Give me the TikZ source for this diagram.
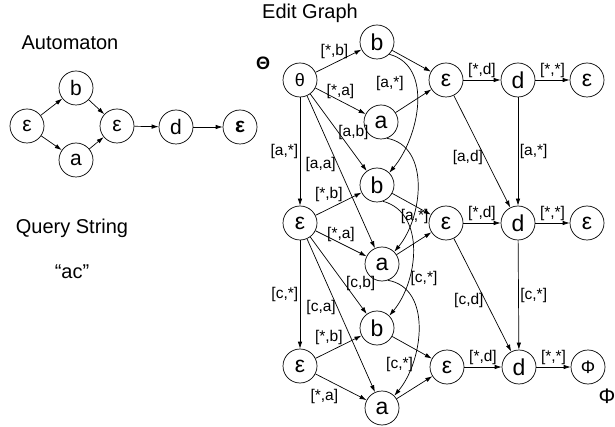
\documentclass[tikz,border=0pt]{standalone}
\usepackage{fontspec}
\setmainfont{Liberation Sans}
\usetikzlibrary{arrows.meta}

\begin{document}
\begin{tikzpicture}[x=1pt, y=1pt, line width=0.7pt, >={Latex[length=7pt,width=4.5pt]},
    state/.style={circle, draw, minimum size=34pt, inner sep=0pt, font=\fontsize{23}{25}\selectfont},
    astate/.style={state, font=\fontsize{21}{23}\selectfont},
    lbl/.style={inner sep=1.5pt, font=\fontsize{15.5}{17}\selectfont},
    title/.style={font=\fontsize{20}{24}\selectfont}]
  \useasboundingbox (0,0) rectangle (615,-427);

  % automaton
  \node [title] at (70,-43) {Automaton};
  \node (E1) [astate] at (27,-126) {ε};
  \node (B) [astate] at (76,-88) {b};
  \node (A) [astate] at (76,-160) {a};
  \node (E2) [astate] at (117,-126) {ε};
  \node (D) [astate] at (176,-127) {d};
  \node (E3) [astate] at (240,-127) {\bfseries ε};
  \draw[->] (E1) -- (B);
  \draw[->] (E1) -- (A);
  \draw[->] (B) -- (E2);
  \draw[->] (A) -- (E2);
  \draw[->] (E2) -- (D);
  \draw[->] (D) -- (E3);

  % query
  \node [title] at (72,-228) {Query String};
  \node [title] at (72,-272) {“ac”};

  % edit graph
  \node [title] at (310,-13) {Edit Graph};
  \node (Th) at (263,-63) {\fontsize{18}{20}\selectfont\bfseries Θ};
  \node (Ph) at (607,-396) {\fontsize{21}{23}\selectfont Φ};

  \node (S0) [state] at (300,-80) {\fontsize{18}{20}\selectfont θ};
  \node (B0) [state] at (377,-42) {b};
  \node (A0) [state] at (381,-122) {a};
  \node (M0) [state] at (446,-80) {ε};
  \node (D0) [state] at (518,-80) {d};
  \node (F0) [state] at (587,-80) {ε};

  \node (S1) [state] at (300,-223) {ε};
  \node (B1) [state] at (377,-185) {b};
  \node (A1) [state] at (382,-264) {a};
  \node (M1) [state] at (446,-223) {ε};
  \node (D1) [state] at (518,-223) {d};
  \node (F1) [state] at (587,-223) {ε};

  \node (S2) [state] at (300,-366) {ε};
  \node (B2) [state] at (377,-328) {b};
  \node (A2) [state] at (382,-408) {a};
  \node (M2) [state] at (447,-367) {ε};
  \node (D2) [state] at (519,-367) {d};
  \node (F2) [state] at (588,-367) {\fontsize{18}{20}\selectfont Φ};

  % layer 0
  \draw[->] (S0) -- (B0) node [lbl, midway, above, xshift=-4] {[*,b]};
  \draw[->] (S0) -- (A0) node [lbl, midway, above] {[*,a]};
  \draw[->] (B0) -- (M0);
  \draw[->] (A0) -- (M0);
  \draw[->] (M0) -- (D0) node [lbl, midway, above] {[*,d]};
  \draw[->] (D0) -- (F0) node [lbl, midway, above] {[*,*]};

  % layer 0 to layer 1
  \draw[->] (S0) -- (S1) node [lbl, midway, left] {[a,*]};
  \draw[->] (S0) -- (B1) node [lbl, midway, right, xshift=-2] {[a,b]};
  \draw[->] (S0) -- (A1) node [lbl, pos=0.45, left] {[a,a]};
  \draw[->] (B0.south east) to [out=-15, in=50]
    node [lbl, pos=0.3, left, xshift=-9, yshift=-5] {[a,*]} (B1.north east);
  \draw[->] (A0.-70) to [out=-10, in=50]
    node [lbl, pos=0.72, xshift=2] {[a,*]} (A1.north east);
  \draw[->] (M0) -- (D1) node [lbl, pos=0.55, left] {[a,d]};
  \draw[->] (D0) -- (D1) node [lbl, midway, right] {[a,*]};

  % layer 1
  \draw[->] (S1) -- (B1) node [lbl, midway, above left, xshift=6] {[*,b]};
  \draw[->] (S1) -- (A1) node [lbl, midway, above] {[*,a]};
  \draw[->] (B1) -- (M1);
  \draw[->] (A1) -- (M1);
  \draw[->] (M1) -- (D1) node [lbl, midway, above] {[*,d]};
  \draw[->] (D1) -- (F1) node [lbl, midway, above] {[*,*]};

  % layer 1 to layer 2
  \draw[->] (S1) -- (S2) node [lbl, midway, left] {[c,*]};
  \draw[->] (S1) -- (B2) node [lbl, pos=0.6, right] {[c,b]};
  \draw[->] (S1) -- (A2) node [lbl, pos=0.45, left] {[c,a]};
  \draw[->] (B1.-70) to [out=-15, in=50]
    node [lbl, pos=0.7, right] {[c,*]} (B2.north east);
  \draw[->] (A1.-70) to [out=-10, in=50]
    node [lbl, pos=0.75, left, xshift=3] {[c,*]} (A2.north east);
  \draw[->] (M1) -- (D2) node [lbl, pos=0.55, left] {[c,d]};
  \draw[->] (D1) -- (D2) node [lbl, midway, right] {[c,*]};

  % layer 2
  \draw[->] (S2) -- (B2) node [lbl, midway, above left, xshift=6] {[*,b]};
  \draw[->] (S2) -- (A2) node [lbl, midway, below left, xshift=-1] {[*,a]};
  \draw[->] (B2) -- (M2);
  \draw[->] (A2) -- (M2);
  \draw[->] (M2) -- (D2) node [lbl, midway, above] {[*,d]};
  \draw[->] (D2) -- (F2) node [lbl, midway, above] {[*,*]};
\end{tikzpicture}
\end{document}
